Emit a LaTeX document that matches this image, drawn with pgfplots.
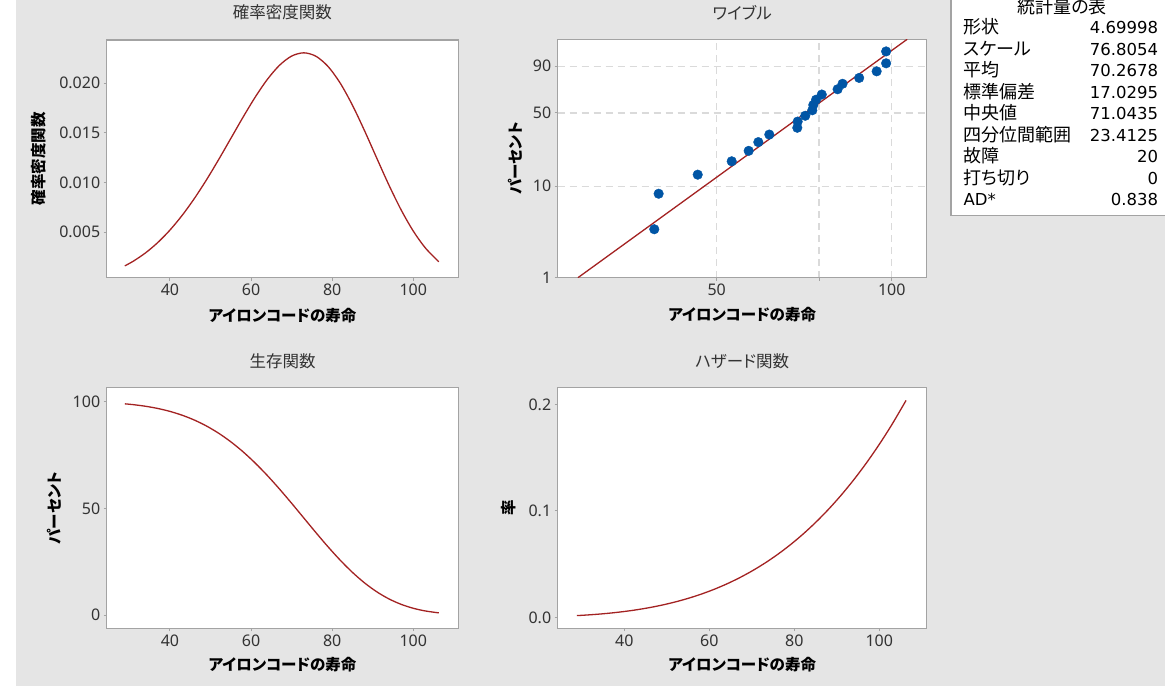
\documentclass[border=0pt]{standalone}
\usepackage{fontspec}
\setmainfont{Noto Sans}
\newfontfamily\jp{Noto Sans CJK JP}[RawFeature=+palt]
\newfontfamily\tabfont{DejaVu Sans}
\usepackage{pgfplots}
\usepackage{pgfplotstable}
\pgfplotsset{compat=1.18}
\definecolor{bgc}{HTML}{E5E5E5}
\definecolor{framec}{HTML}{A3A3A3}
\definecolor{tickc}{HTML}{333333}
\definecolor{titlec}{HTML}{333333}
\definecolor{curvec}{HTML}{A32222}
\definecolor{ptc}{HTML}{0055A5}
\definecolor{gridc}{HTML}{DADADA}

\pgfplotstableread{
t f S h
28.864 0.0016197 99.000 0.0016361
31 0.0021023 98.604 0.0021321
34 0.0029364 97.853 0.0030008
37 0.0039726 96.822 0.0041030
40 0.0052257 95.447 0.0054750
43 0.0067014 93.664 0.0071548
46 0.0083932 91.405 0.0091825
49 0.0102792 88.609 0.0116006
52 0.0123176 85.222 0.0144535
55 0.0144446 81.209 0.0177869
58 0.0165735 76.555 0.0216491
61 0.0185954 71.274 0.0260901
64 0.0203853 65.418 0.0311617
67 0.0218104 59.079 0.0369176
70 0.0227416 52.385 0.0434128
73 0.0230683 45.495 0.0507047
76 0.0227228 38.610 0.0588523
79 0.0216863 31.931 0.0679162
82 0.0200062 25.662 0.0779587
85 0.0177919 19.981 0.0890434
88 0.0152098 15.024 0.1012369
91 0.0124598 10.872 0.1146058
94 0.0097484 7.544 0.1292185
97 0.0072582 5.001 0.1451465
100 0.0051232 3.154 0.1624609
103 0.0034143 1.884 0.1812369
106.29 0.0020340 1.000 0.2036674
}\wbl

% Weibull plot points: x = ln(life), y = ln(-ln(1-p))
\pgfplotstableread{
lnt y
3.664843 -3.3548
3.682107 -2.4419
3.836868 -1.9521
3.971423 -1.6083
4.038656 -1.3398
4.076859 -1.1157
4.120337 -0.9210
4.231204 -0.7466
4.232657 -0.5872
4.262680 -0.4383
4.290459 -0.2966
4.294569 -0.1600
4.305415 -0.0260
4.328098 0.1075
4.390738 0.2430
4.410371 0.3839
4.476200 0.5348
4.545420 0.7041
4.582924 0.9103
4.582924 1.2156
}\wpts

\pgfplotsset{
  mystyle/.style={
    scale only axis, anchor=south west,
    axis background/.style={fill=white},
    axis line style={framec, line width=1.5pt},
    every tick/.style={framec, line width=1pt},
    tick align=outside, major tick length=3pt,
    tick pos=left,
    ticklabel style={font=\fontsize{16}{19}\selectfont, text=tickc},
    label style={font=\jp\bfseries\fontsize{15.5}{19}\selectfont, text=black},
    title style={font=\jp\fontsize{16.5}{20}\selectfont, text=titlec, anchor=center},
    xlabel style={anchor=center},
    ylabel style={anchor=center},
    scaled ticks=false,
  },
  curve/.style={color=curvec, line width=1.3pt, smooth, no markers},
}

\begin{document}
\begin{tikzpicture}[x=1pt,y=1pt]
\fill[white] (0,0) rectangle (1165,686);
\fill[bgc] (16,0) rectangle (1165,686);

% Panel 1: PDF
\begin{axis}[mystyle, at={(106.7pt,408.3pt)}, width=351.6pt, height=237.7pt,
  xmin=24.4, xmax=111.1, ymin=0.00043, ymax=0.02436,
  xtick={40,60,80,100}, xticklabels={40,60,80,100},
  ytick={0.005,0.010,0.015,0.020}, yticklabels={0.005,0.010,0.015,0.020},
  title={確率密度関数}, title style={at={(axis description cs:0.5,1.0926)}},
  xlabel={アイロンコードの寿命}, xlabel style={at={(axis description cs:0.5,-0.1611)}},
  ylabel={確率密度関数}, ylabel style={at={(axis description cs:-0.1926,0.5)}}]
\addplot[curve] table[x=t,y=f] {\wbl};
\end{axis}

% Panel 2: Weibull probability plot (log life on x, Weibull probability scale on y)
\begin{axis}[mystyle, at={(557.7pt,408.3pt)}, width=369pt, height=238.4pt,
  xmin=3.282414, xmax=4.743627,
  xtick={3.912023,4.317488,4.605170}, xticklabels={50,,100},
  ymin=-4.60015, ymax=1.52718,
  ytick={-4.60015,-2.250367,-0.366513,0.834032}, yticklabels={1,10,50,90},
  grid=major, major grid style={gridc, dash pattern=on 7pt off 5pt, line width=1.2pt},
  title={ワイブル}, title style={at={(axis description cs:0.5,1.0852)}},
  xlabel={アイロンコードの寿命}, xlabel style={at={(axis description cs:0.5,-0.1565)}},
  ylabel={パーセント}, ylabel style={at={(axis description cs:-0.1157,0.5)}}]
\addplot[color=curvec, line width=1.3pt, no markers] coordinates {(3.362514,-4.60015) (4.666208,1.52718)};
\addplot[only marks, mark=*, mark size=4.8pt, mark options={draw=ptc, fill=ptc}] table[x=lnt,y=y] {\wpts};
\end{axis}

% Panel 3: Survival
\begin{axis}[mystyle, at={(106.7pt,57.7pt)}, width=351.6pt, height=240.6pt,
  xmin=24.4, xmax=111.1, ymin=-6.23, ymax=106.56,
  xtick={40,60,80,100}, xticklabels={40,60,80,100},
  ytick={0,50,100}, yticklabels={0,50,100},
  title={生存関数}, title style={at={(axis description cs:0.5,1.084)}},
  xlabel={アイロンコードの寿命}, xlabel style={at={(axis description cs:0.5,-0.1525)}},
  ylabel={パーセント}, ylabel style={at={(axis description cs:-0.1499,0.5)}}]
\addplot[curve] table[x=t,y=S] {\wbl};
\end{axis}

% Panel 4: Hazard
\begin{axis}[mystyle, at={(557.7pt,57.7pt)}, width=369pt, height=240.6pt,
  xmin=24.33, xmax=111.15, ymin=-0.0103, ymax=0.2156,
  xtick={40,60,80,100}, xticklabels={40,60,80,100},
  ytick={0,0.1,0.2}, yticklabels={0.0,0.1,0.2},
  title={ハザード関数}, title style={at={(axis description cs:0.5,1.084)}},
  xlabel={アイロンコードの寿命}, xlabel style={at={(axis description cs:0.5,-0.1525)}},
  ylabel={率}, ylabel style={at={(axis description cs:-0.1328,0.5)}}]
\addplot[curve] table[x=t,y=h] {\wbl};
\end{axis}

% Statistics table
\filldraw[overlay, fill=white, draw=framec, line width=1.5pt] (951,470.3) rectangle (1180,700);
\node[overlay, anchor=center, font=\jp\fontsize{18}{21}\selectfont, text=black] at (1062.3,679.3) {統計量の表};
\tikzset{lab/.style={anchor=west, inner sep=0pt, text height=12pt, text depth=3pt, font=\jp\fontsize{18}{21}\selectfont, text=black},
         val/.style={anchor=east, inner sep=0pt, text height=12pt, text depth=3pt, font=\tabfont\fontsize{16.5}{20}\selectfont, text=black}}
\node[lab] at (963.3,656.5) {形状};          \node[val] at (1158.3,656.5) {4.69998};
\node[lab] at (963.3,635.0) {スケール};      \node[val] at (1158.3,635.0) {76.8054};
\node[lab] at (963.3,613.5) {平均};          \node[val] at (1158.3,613.5) {70.2678};
\node[lab] at (963.3,592.0) {標準偏差};      \node[val] at (1158.3,592.0) {17.0295};
\node[lab] at (963.3,570.5) {中央値};        \node[val] at (1158.3,570.5) {71.0435};
\node[lab] at (963.3,549.0) {四分位間範囲};  \node[val] at (1158.3,549.0) {23.4125};
\node[lab] at (963.3,527.5) {故障};          \node[val] at (1158.3,527.5) {20};
\node[lab] at (963.3,506.0) {打ち切り};      \node[val] at (1158.3,506.0) {0};
\node[lab, font=\tabfont\fontsize{16.5}{20}\selectfont] at (963.3,484.5) {AD*}; \node[val] at (1158.3,484.5) {0.838};
\end{tikzpicture}
\end{document}
